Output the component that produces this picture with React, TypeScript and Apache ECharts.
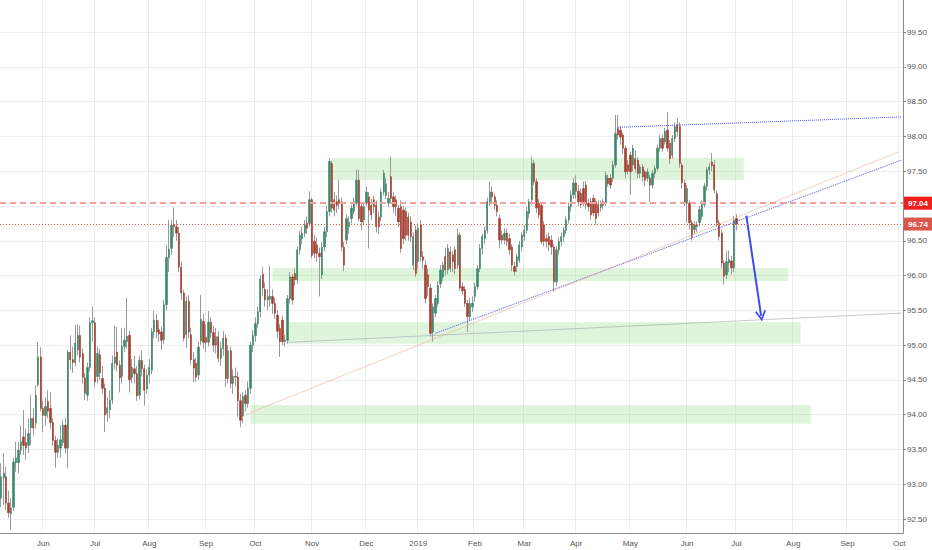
import React, { useEffect, useRef } from 'react';
import * as echarts from 'echarts';

// Daily candles, each [open, close, low, high]
const MAY_2018 = [
  [92.80, 93.11, 92.67, 93.30], [93.09, 93.16, 92.70, 93.45], [93.11, 92.73, 92.63, 93.25],
  [92.73, 92.59, 92.52, 92.91], [92.58, 92.66, 92.35, 92.80], [92.67, 93.32, 92.62, 93.38],
  [93.31, 93.38, 93.18, 93.61], [93.31, 93.49, 93.16, 93.61], [93.49, 93.61, 93.42, 93.85],
  [93.68, 93.56, 93.42, 94.07], [93.60, 93.52, 93.35, 93.80], [93.56, 93.73, 93.45, 93.95],
  [93.81, 93.95, 93.56, 94.28], [93.95, 93.81, 93.70, 94.10], [93.88, 94.28, 93.80, 94.42],
  [94.43, 94.83, 94.40, 95.04], [94.83, 94.09, 94.05, 94.97],
];
const JUN_2018 = [
  [94.09, 93.99, 93.75, 94.20], [93.99, 94.12, 93.85, 94.25], [94.19, 94.05, 93.95, 94.35],
  [94.09, 93.89, 93.80, 94.32], [93.89, 93.63, 93.55, 93.95], [93.63, 93.46, 93.24, 93.70],
  [93.46, 93.56, 93.38, 93.66], [93.52, 93.64, 93.38, 93.85], [93.60, 93.85, 93.55, 93.92],
  [93.85, 93.52, 93.45, 93.96], [93.52, 94.90, 93.23, 94.93], [94.90, 94.79, 94.65, 95.14],
  [94.79, 94.75, 94.60, 94.98], [94.75, 95.03, 94.70, 95.29], [94.93, 95.14, 94.85, 95.30],
  [95.14, 94.83, 94.75, 95.28], [94.88, 94.54, 94.45, 94.95], [94.53, 94.31, 94.21, 94.60],
  [94.28, 94.68, 94.20, 94.75], [94.68, 95.32, 94.62, 95.40], [95.32, 95.35, 95.05, 95.55],
];
const JUL_2018 = [
  [95.32, 94.47, 94.40, 95.40], [94.55, 94.88, 94.45, 94.98], [94.86, 94.60, 94.50, 94.95],
  [94.52, 94.38, 94.30, 94.70], [94.38, 94.00, 93.75, 94.45], [94.02, 94.10, 93.90, 94.25],
  [94.07, 94.21, 93.95, 94.35], [94.21, 94.74, 94.15, 94.85], [94.74, 94.83, 94.65, 95.28],
  [94.90, 94.71, 94.62, 95.26], [94.71, 94.53, 94.32, 94.78], [94.55, 94.98, 94.45, 95.24],
  [94.98, 95.07, 94.90, 95.25], [95.05, 95.13, 94.95, 95.68], [95.14, 94.50, 94.32, 95.20],
  [94.53, 94.68, 94.45, 94.80], [94.66, 94.59, 94.45, 94.85], [94.59, 94.27, 94.20, 94.70],
  [94.28, 94.78, 94.22, 94.85], [94.78, 94.66, 94.55, 94.92], [94.66, 94.35, 94.13, 94.72],
  [94.37, 94.57, 94.30, 94.65],
];
const AUG_2018 = [
  [94.57, 94.68, 94.45, 94.80], [94.64, 95.19, 94.58, 95.25], [95.19, 95.36, 95.10, 95.49],
  [95.36, 95.19, 95.10, 95.45], [95.22, 95.16, 95.05, 95.35], [95.19, 95.07, 94.93, 95.26],
  [95.08, 95.58, 95.02, 95.65], [95.58, 96.26, 95.50, 96.44], [96.26, 96.38, 96.05, 96.80],
  [96.39, 96.72, 96.30, 96.80], [96.73, 96.70, 96.55, 96.98], [96.70, 96.61, 96.50, 96.80],
  [96.61, 96.12, 96.05, 96.70], [96.12, 95.75, 95.65, 96.20], [95.75, 95.10, 95.05, 95.80],
  [95.15, 95.63, 94.96, 95.70], [95.63, 95.19, 95.10, 95.72], [95.15, 94.79, 94.72, 95.25],
  [94.79, 94.67, 94.47, 94.90], [94.74, 94.54, 94.47, 94.82], [94.57, 94.97, 94.50, 95.05],
  [95.06, 95.37, 95.00, 95.72], [95.34, 95.04, 94.95, 95.45],
];
const SEP_2018 = [
  [95.11, 95.04, 94.90, 95.30], [95.04, 95.33, 94.98, 95.49], [95.33, 95.18, 95.10, 95.40],
  [95.18, 95.00, 94.90, 95.28], [95.00, 95.12, 94.88, 95.25], [95.12, 94.81, 94.75, 95.20],
  [94.81, 94.95, 94.70, 95.05], [94.95, 95.10, 94.85, 95.20], [95.10, 94.52, 94.40, 95.15],
  [94.52, 94.92, 94.45, 95.00], [94.92, 94.45, 94.38, 94.98], [94.45, 94.55, 94.30, 94.65],
  [94.55, 94.54, 94.40, 94.68], [94.54, 94.20, 93.97, 94.62], [94.20, 93.92, 93.82, 94.30],
  [93.98, 94.26, 93.88, 94.32], [94.28, 94.16, 94.05, 94.35], [94.16, 94.38, 94.10, 94.48],
  [94.38, 95.00, 94.30, 95.05], [95.00, 95.14, 94.90, 95.22],
];
const OCT_2018 = [
  [95.14, 95.31, 95.05, 95.40], [95.31, 95.48, 95.25, 95.55], [95.48, 95.95, 95.40, 96.00],
  [96.02, 95.82, 95.70, 96.12], [95.80, 95.65, 95.55, 95.90], [95.65, 95.70, 95.50, 95.80],
  [95.66, 95.70, 95.55, 96.14], [95.70, 95.60, 95.45, 95.80], [95.60, 95.46, 95.38, 95.68],
  [95.43, 95.20, 95.10, 95.50], [95.24, 95.05, 94.83, 95.30], [95.36, 95.05, 95.00, 95.42],
  [95.05, 95.07, 94.98, 95.15], [95.07, 95.67, 95.02, 95.72], [95.67, 95.98, 95.60, 96.05],
  [95.98, 95.65, 95.58, 96.02], [96.03, 95.94, 95.85, 96.10], [95.94, 96.37, 95.88, 96.42],
  [96.37, 96.58, 96.30, 96.65], [96.53, 96.61, 96.45, 96.70], [96.61, 96.73, 96.55, 96.80],
  [96.75, 96.68, 96.60, 96.85], [96.75, 97.09, 96.70, 97.21],
];
const NOV_2018 = [
  [97.09, 96.29, 96.25, 97.12], [96.49, 96.32, 96.25, 96.58], [96.44, 96.32, 96.20, 96.55],
  [96.32, 96.27, 95.70, 96.40], [96.01, 96.41, 95.95, 96.48], [96.41, 96.63, 96.35, 96.70],
  [96.63, 96.92, 96.55, 97.00], [96.92, 97.64, 96.85, 97.69], [97.61, 96.97, 96.90, 97.65],
  [97.09, 96.94, 96.85, 97.20], [97.06, 97.01, 96.90, 97.15], [97.09, 97.04, 96.95, 97.37],
  [97.06, 96.41, 96.35, 97.12], [96.41, 96.15, 96.06, 96.48], [96.51, 96.82, 96.45, 96.88],
  [96.70, 96.77, 96.60, 96.85], [96.82, 96.97, 96.75, 97.02], [96.92, 97.06, 96.88, 97.12],
  [97.04, 97.37, 97.00, 97.52], [97.37, 96.82, 96.78, 97.52], [96.99, 96.77, 96.65, 97.05],
  [96.80, 96.99, 96.72, 97.05],
];
const DEC_2018 = [
  [97.04, 97.20, 97.00, 97.28], [97.13, 96.94, 96.39, 97.20], [97.01, 96.87, 96.80, 97.10],
  [97.09, 96.99, 96.90, 97.15], [97.01, 96.70, 96.62, 97.08], [96.84, 96.70, 96.60, 96.92],
  [96.84, 97.20, 96.78, 97.25], [97.20, 97.47, 97.15, 97.52], [97.15, 97.32, 97.10, 97.40],
  [97.04, 97.11, 96.98, 97.20], [97.42, 97.11, 97.05, 97.71], [97.13, 96.99, 96.90, 97.20],
  [97.09, 96.99, 96.85, 97.15], [96.97, 96.77, 96.70, 97.02], [96.99, 96.39, 96.33, 97.08],
  [96.94, 96.53, 96.45, 97.00], [96.92, 96.58, 96.50, 96.98], [96.84, 96.58, 96.50, 96.90],
  [96.77, 96.56, 96.48, 96.85], [96.15, 96.56, 96.08, 96.62], [96.65, 96.03, 95.98, 96.72],
];
const JAN_2019 = [
  [96.20, 96.68, 96.10, 96.75], [96.73, 96.27, 96.20, 96.80], [96.27, 96.22, 96.10, 96.35],
  [96.15, 95.67, 95.60, 96.22], [96.01, 95.84, 95.70, 96.10], [95.82, 95.17, 95.12, 95.88],
  [95.19, 95.55, 95.05, 95.60], [95.46, 95.67, 95.40, 95.72], [95.60, 95.86, 95.55, 95.92],
  [95.88, 96.08, 95.82, 96.15], [95.98, 96.15, 95.92, 96.20], [96.27, 96.08, 96.00, 96.40],
  [96.08, 96.39, 96.02, 96.45], [96.34, 96.10, 96.05, 96.42], [96.30, 96.20, 96.05, 96.35],
  [96.37, 96.10, 96.02, 96.42], [96.15, 96.58, 96.10, 96.68], [96.58, 95.82, 95.78, 96.62],
  [95.84, 95.78, 95.72, 95.90], [95.80, 95.60, 95.55, 95.85], [95.60, 95.41, 95.19, 95.65],
  [95.41, 95.60, 95.35, 95.68], [95.55, 95.60, 95.48, 95.70],
];
const FEB_2019 = [
  [95.70, 95.84, 95.62, 95.90], [95.84, 96.10, 95.80, 96.15], [96.10, 96.39, 96.05, 96.45],
  [96.39, 96.56, 96.30, 96.60], [96.53, 96.65, 96.45, 96.70], [96.65, 97.06, 96.60, 97.12],
  [97.06, 97.20, 97.00, 97.35], [97.20, 97.13, 97.05, 97.28], [97.13, 97.01, 96.95, 97.18],
  [97.01, 96.92, 96.85, 97.08], [96.82, 96.51, 96.39, 96.88], [96.58, 96.51, 96.45, 96.65],
  [96.51, 96.61, 96.45, 96.68], [96.61, 96.49, 96.42, 96.68], [96.53, 96.37, 96.30, 96.60],
  [96.41, 96.15, 96.06, 96.45], [96.13, 96.06, 96.00, 96.20], [96.13, 96.27, 96.05, 96.32],
  [96.22, 96.44, 96.18, 96.50], [96.41, 96.58, 96.35, 96.62],
];
const MAR_2019 = [
  [96.56, 96.65, 96.50, 96.72], [96.65, 96.92, 96.60, 96.98], [96.89, 97.06, 96.82, 97.10],
  [97.09, 97.61, 97.02, 97.71], [97.61, 97.35, 97.30, 97.66], [97.35, 96.97, 96.90, 97.40],
  [97.04, 96.87, 96.82, 97.10], [97.01, 96.49, 96.45, 97.05], [96.73, 96.49, 96.42, 96.78],
  [96.53, 96.49, 96.40, 96.60], [96.56, 96.44, 96.35, 96.62], [96.51, 96.41, 96.30, 96.58],
  [96.41, 95.91, 95.77, 96.45], [95.91, 96.37, 95.85, 96.42], [96.37, 96.49, 96.30, 96.55],
  [96.49, 96.56, 96.42, 96.62], [96.56, 96.65, 96.48, 96.70], [96.65, 96.80, 96.60, 96.85],
  [96.80, 96.99, 96.75, 97.05], [96.99, 97.16, 96.92, 97.22], [97.16, 97.33, 97.10, 97.40],
];
const APR_2019 = [
  [97.33, 97.21, 97.10, 97.44], [97.21, 97.06, 97.00, 97.30], [97.18, 97.02, 96.97, 97.25],
  [97.25, 97.06, 97.00, 97.35], [97.30, 97.02, 96.95, 97.36], [97.04, 96.99, 96.92, 97.10],
  [97.06, 96.87, 96.80, 97.12], [97.11, 96.90, 96.85, 97.16], [97.06, 96.82, 96.73, 97.10],
  [97.02, 96.90, 96.85, 97.08], [96.98, 97.04, 96.92, 97.08], [97.06, 97.01, 96.95, 97.10],
  [97.04, 97.44, 97.00, 97.50], [97.40, 97.32, 97.28, 97.45], [97.40, 97.30, 97.25, 97.46],
  [97.40, 97.59, 97.35, 97.65], [97.59, 98.04, 97.55, 98.31], [98.11, 98.02, 97.95, 98.31],
  [98.09, 97.99, 97.88, 98.15], [98.02, 97.83, 97.75, 98.06], [97.83, 97.49, 97.40, 97.87],
  [97.59, 97.50, 97.45, 97.66],
];
const MAY_2019 = [
  [97.73, 97.49, 97.16, 97.78], [97.59, 97.83, 97.50, 97.88], [97.68, 97.54, 97.48, 97.80],
  [97.66, 97.47, 97.40, 97.70], [97.47, 97.56, 97.40, 97.60], [97.56, 97.42, 97.35, 97.60],
  [97.49, 97.37, 97.28, 97.52], [97.40, 97.49, 97.35, 97.54], [97.40, 97.30, 97.06, 97.44],
  [97.30, 97.47, 97.25, 97.52], [97.47, 97.54, 97.40, 97.58], [97.54, 97.83, 97.50, 97.88],
  [97.83, 97.97, 97.78, 98.02], [97.97, 97.83, 97.78, 98.02], [97.92, 98.07, 97.88, 98.12],
  [98.09, 97.83, 97.78, 98.35], [97.90, 97.68, 97.60, 97.95], [97.73, 97.97, 97.68, 98.02],
  [97.97, 98.14, 97.92, 98.20], [98.16, 98.07, 98.00, 98.26], [98.14, 97.61, 97.55, 98.20],
  [97.59, 97.33, 97.25, 97.62], [97.33, 97.04, 97.00, 97.38],
];
const JUN_2019 = [
  [97.04, 97.25, 96.76, 97.30], [97.04, 96.76, 96.66, 97.08], [96.76, 96.56, 96.50, 96.80],
  [96.66, 96.73, 96.60, 96.78], [96.73, 96.71, 96.62, 96.78], [96.76, 96.95, 96.70, 97.00],
  [96.85, 97.02, 96.80, 97.08], [97.02, 97.28, 96.98, 97.33], [97.28, 97.52, 97.22, 97.56],
  [97.52, 97.56, 97.45, 97.62], [97.63, 97.58, 97.50, 97.76], [97.59, 97.23, 97.18, 97.66],
  [97.18, 96.76, 96.70, 97.22], [96.76, 96.56, 96.50, 96.80], [96.61, 96.18, 96.10, 96.66],
  [96.18, 95.99, 95.87, 96.22], [96.01, 96.20, 95.95, 96.35], [96.18, 96.23, 96.05, 96.36],
  [96.21, 96.11, 96.02, 96.28], [96.11, 96.80, 96.05, 96.86],
];
const JUL_2019 = [
  [96.82, 96.74, 96.65, 96.88],
];

// Time axis: one slot per weekday starting 9 May 2018, running to early Oct 2019
const SLOT_COUNT = 366;
const MONTH_TICK_SLOTS = [17, 38, 60, 83, 103, 126, 148, 169, 192, 212, 233, 255, 278, 298, 321, 343, 364];
const MONTH_TICK_LABELS = ['Jun', 'Jul', 'Aug', 'Sep', 'Oct', 'Nov', 'Dec', '2019', 'Feb', 'Mar', 'Apr', 'May', 'Jun', 'Jul', 'Aug', 'Sep', 'Oct'];

// Price levels
const ALERT_LEVEL = 97.04;
const LAST_PRICE = 96.74;
const HIDDEN_TICK = 97.0; // covered by the alert badge in the original

// Drawn zones: [slot start, price top], [slot end, price bottom]
const ZONES = [
  [[134, 97.69], [301, 97.37]],
  [[110, 96.11], [319, 95.92]],
  [[116, 95.33], [324, 95.02]],
  [[101, 94.14], [328, 93.87]],
];

// Drawn trend lines: [slot, price] -> [slot, price]
const BLUE_TRENDS = [
  [[176, 95.17], [365, 97.66]],
  [[250, 98.13], [365, 98.28]],
];
const TAN_TREND = [[99, 94.0], [364, 97.78]];
const GREY_TREND = [[116, 95.04], [365, 95.46]];
const ARROW = [[302, 96.86], [308, 95.42]];

const OHLC = [
  ...MAY_2018, ...JUN_2018, ...JUL_2018, ...AUG_2018, ...SEP_2018, ...OCT_2018, ...NOV_2018,
  ...DEC_2018, ...JAN_2019, ...FEB_2019, ...MAR_2019, ...APR_2019, ...MAY_2019, ...JUN_2019, ...JUL_2019,
];

const UP = '#3a8869';
const DOWN = '#a63c2e';
const WICK = '#9a9a9a';
const AXIS = '#8a8a8a';
const GRID = '#ededed';
const FONT = 'Liberation Sans, Arial, sans-serif';

export default function App() {
  const ref = useRef<HTMLDivElement>(null);

  useEffect(() => {
    if (!ref.current) return;
    const chart = echarts.init(ref.current, null, { renderer: 'svg' });
    const categories = Array.from({ length: SLOT_COUNT }, (_, i) => String(i));
    const tickSet = new Set(MONTH_TICK_SLOTS);
    const labelMap: Record<number, string> = {};
    MONTH_TICK_SLOTS.forEach((s, k) => (labelMap[s] = MONTH_TICK_LABELS[k]));

    const wickData = OHLC.map((d) => [d[0], d[1], d[2], d[3]]);
    const bodyData = OHLC.map((d) => [d[0], d[1], Math.min(d[0], d[1]), Math.max(d[0], d[1])]);

    const segment = (pair: number[][], color: string, type: any, width: number) => [
      { coord: pair[0], lineStyle: { color, type, width }, symbol: 'none' },
      { coord: pair[1], symbol: 'none' },
    ];

    const chevron = 'path://M5,0 L10,9 L8.7,10 L5,3.3 L1.3,10 L0,9 Z';

    chart.setOption({
      animation: false,
      backgroundColor: '#ffffff',
      textStyle: { fontFamily: FONT },
      grid: { left: 0, right: 29, top: 0, bottom: 17, containLabel: false },
      xAxis: {
        type: 'category',
        data: categories,
        boundaryGap: true,
        axisLine: { show: true, lineStyle: { color: AXIS, width: 1 } },
        axisTick: { show: false },
        axisLabel: {
          interval: (index: number) => tickSet.has(index),
          formatter: (value: string) => labelMap[Number(value)] ?? '',
          color: '#555',
          fontSize: 8,
          fontFamily: FONT,
          margin: 6,
        },
        splitLine: {
          show: true,
          interval: (index: number) => tickSet.has(index),
          lineStyle: { color: GRID, width: 1 },
        },
      },
      yAxis: {
        type: 'value',
        position: 'right',
        min: 92.3,
        max: 99.96,
        splitNumber: 15,
        axisLine: { show: true, lineStyle: { color: AXIS, width: 1 } },
        axisTick: { show: true, length: 3, lineStyle: { color: AXIS } },
        axisLabel: {
          color: '#555',
          fontSize: 8,
          fontFamily: FONT,
          margin: 4,
          showMinLabel: false,
          showMaxLabel: false,
          formatter: (v: number) => (Math.abs(v - HIDDEN_TICK) < 1e-6 ? '' : v.toFixed(2)),
        },
        splitLine: { show: true, showMinLine: false, showMaxLine: false, lineStyle: { color: GRID, width: 1 } },
      },
      series: [
        {
          name: 'wicks',
          type: 'candlestick',
          data: wickData,
          barWidth: 1,
          z: 2,
          silent: true,
          itemStyle: { color: WICK, color0: WICK, borderColor: WICK, borderColor0: WICK, borderWidth: 1 },
          markArea: {
            silent: true,
            itemStyle: { color: 'rgba(120, 215, 105, 0.24)', borderWidth: 0 },
            data: ZONES.map((z) => [{ coord: z[0] }, { coord: z[1] }]),
          },
        },
        {
          name: 'bodies',
          type: 'candlestick',
          data: bodyData,
          barWidth: 1.8,
          z: 3,
          silent: true,
          itemStyle: { color: UP, color0: DOWN, borderColor: UP, borderColor0: DOWN, borderWidth: 0.6 },
          markLine: {
            silent: true,
            symbol: ['none', 'none'],
            label: { show: false },
            emphasis: { disabled: true },
            data: [
              ...BLUE_TRENDS.map((p) => segment(p, '#4e52ea', 'dotted', 1)),
              segment(TAN_TREND, 'rgba(230, 180, 150, 0.6)', 'solid', 1),
              segment(GREY_TREND, 'rgba(150, 150, 165, 0.5)', 'solid', 1),
              [
                { coord: ARROW[0], symbol: 'none', lineStyle: { color: '#3d4cf0', type: 'solid', width: 2 } },
                { coord: ARROW[1], symbol: chevron, symbolSize: [11, 11] },
              ],
              {
                yAxis: ALERT_LEVEL,
                lineStyle: { color: '#f4a0a0', type: [6, 4], width: 2 },
                label: {
                  show: true,
                  position: 'end',
                  distance: 1,
                  formatter: ALERT_LEVEL.toFixed(2),
                  color: '#ffffff',
                  fontWeight: 'bold',
                  fontSize: 8,
                  fontFamily: FONT,
                  backgroundColor: '#f21d1d',
                  padding: [3, 4, 2, 4],
                },
              },
              {
                yAxis: LAST_PRICE,
                lineStyle: { color: '#e0574a', type: [1, 2], width: 1 },
                label: {
                  show: true,
                  position: 'end',
                  distance: 1,
                  formatter: LAST_PRICE.toFixed(2),
                  color: '#ffffff',
                  fontWeight: 'bold',
                  fontSize: 8,
                  fontFamily: FONT,
                  backgroundColor: '#d9574a',
                  padding: [3, 4, 2, 4],
                },
              },
            ],
          },
        },
      ],
    });

    return () => chart.dispose();
  }, []);

  return (
    <div
      ref={ref}
      style={{ position: 'fixed', left: 0, top: 0, width: 932, height: 550, background: '#fff' }}
    />
  );
}
